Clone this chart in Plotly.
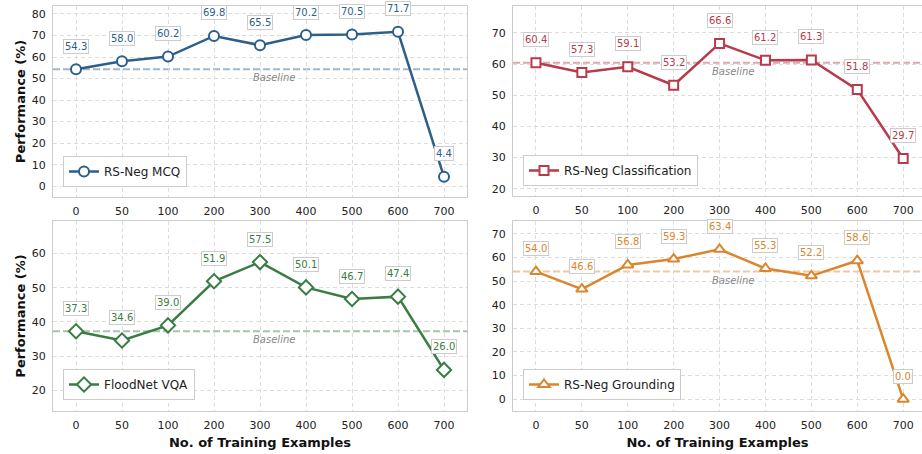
import plotly.graph_objects as go

# ---- data ----
categories = ["0", "50", "100", "200", "300", "400", "500", "600", "700"]
mcq = [54.3, 58.0, 60.2, 69.8, 65.5, 70.2, 70.5, 71.7, 4.4]
classification = [60.4, 57.3, 59.1, 53.2, 66.6, 61.2, 61.3, 51.8, 29.7]
floodnet = [37.3, 34.6, 39.0, 51.9, 57.5, 50.1, 46.7, 47.4, 26.0]
grounding = [54.0, 46.6, 56.8, 59.3, 63.4, 55.3, 52.2, 58.6, 0.0]
series_names = ["RS-Neg MCQ", "RS-Neg Classification", "FloodNet VQA", "RS-Neg Grounding"]
series_values = [mcq, classification, floodnet, grounding]
y_ticks = [[0, 10, 20, 30, 40, 50, 60, 70, 80],
           [20, 30, 40, 50, 60, 70],
           [20, 30, 40, 50, 60],
           [0, 10, 20, 30, 40, 50, 60, 70]]

colors = ["#2D5F8B", "#B83A4B", "#3A7D44", "#D9862E"]
baseline_colors = ["rgba(45,95,139,0.45)", "rgba(184,58,75,0.45)",
                   "rgba(58,125,68,0.45)", "rgba(217,134,46,0.45)"]
symbols = ["circle", "square", "diamond", "triangle-up"]
msizes = [10, 9, 11, 10]

W, H = 922, 454
ml, mr, mt, mb = 53, 0, 6, 43
pw, ph = W - ml - mr, H - mt - mb

def fx(px):
    return (px - ml) / pw

def fy(py):
    return (H - mb - py) / ph

xdoms = [[fx(53), fx(467)], [fx(513), 1.0], [fx(53), fx(467)], [fx(513), 1.0]]
ydoms = [[fy(197), 1.0], [fy(196), 1.0], [0.0, fy(221)], [0.0, fy(221)]]
xranges = [[-0.5, 8.5], [-0.5, 8.41], [-0.5, 8.5], [-0.5, 8.41]]
legpos = [(fx(63), fy(187)), (fx(523), fy(186)), (fx(63), fy(400)), (fx(523), fy(400))]

fig = go.Figure()
xs = list(range(len(categories)))
font_family = "DejaVu Sans"

layout = dict(
    width=W, height=H,
    margin=dict(l=ml, r=mr, t=mt, b=mb, autoexpand=False),
    paper_bgcolor="white", plot_bgcolor="white",
    font=dict(family=font_family, color="#222", size=11),
    showlegend=True,
)
annotations = []
shapes = []

for i in range(4):
    k = "" if i == 0 else str(i + 1)
    vals = series_values[i]
    ymin = max(min(vals) - 12, -5)
    ymax = max(vals) + 12
    leg = "legend" if i == 0 else "legend" + str(i + 1)
    fig.add_trace(go.Scatter(
        x=xs, y=vals, mode="lines+markers", name=series_names[i],
        xaxis="x" + k, yaxis="y" + k, legend=leg,
        line=dict(color=colors[i], width=2.5),
        marker=dict(symbol=symbols[i], size=msizes[i], color="white",
                    line=dict(color=colors[i], width=2)),
        hoverinfo="skip", cliponaxis=False,
    ))
    grid = dict(showgrid=True, gridcolor="#DDDDDD", gridwidth=1, griddash="4px,3px",
                showline=True, linecolor="#CCCCCC", linewidth=1, mirror=True,
                zeroline=False, ticks="", tickfont=dict(size=11, color="#222"),
                automargin=False)
    layout["xaxis" + k] = dict(
        domain=xdoms[i], range=xranges[i], tickvals=xs, ticktext=categories,
        anchor="y" + k, ticklabelstandoff=4, **grid,
        title=dict(text="<b>No. of Training Examples</b>" if i >= 2 else "",
                   font=dict(size=13, color="#111"), standoff=6),
    )
    layout["yaxis" + k] = dict(
        domain=ydoms[i], range=[ymin, ymax], tickvals=y_ticks[i],
        anchor="x" + k, ticklabelstandoff=4, **grid,
        title=dict(text="<b>Performance (%)</b>" if i in (0, 2) else "",
                   font=dict(size=13, color="#111"), standoff=3),
    )
    layout[leg] = dict(
        x=legpos[i][0], y=legpos[i][1], xanchor="left", yanchor="bottom",
        bgcolor="rgba(255,255,255,0.9)", bordercolor="#CCCCCC", borderwidth=1,
        font=dict(size=12, color="#222"),
    )
    # baseline
    shapes.append(dict(type="line", xref="x" + k + " domain", x0=0, x1=1,
                       yref="y" + k, y0=vals[0], y1=vals[0],
                       line=dict(color=baseline_colors[i], width=2, dash="7px,3px"),
                       layer="below"))
    annotations.append(dict(x=4.3, y=vals[0], xref="x" + k, yref="y" + k,
                            text="<i>Baseline</i>", showarrow=False,
                            yanchor="top", yshift=-1,
                            font=dict(size=10, color="#888888")))
    for xi, v in zip(xs, vals):
        annotations.append(dict(
            x=xi, y=v, xref="x" + k, yref="y" + k, text=f"{v:.1f}",
            showarrow=False, yshift=23, yanchor="middle",
            font=dict(size=10, color=colors[i]),
            bgcolor="white", bordercolor="#CCCCCC", borderwidth=1, borderpad=1,
        ))

layout["annotations"] = annotations
layout["shapes"] = shapes
fig.update_layout(**layout)
fig.write_html("out.html",
               config={"displayModeBar": False},
               post_script="document.body.style.margin='0px';"
                           "document.body.style.overflow='hidden';")
